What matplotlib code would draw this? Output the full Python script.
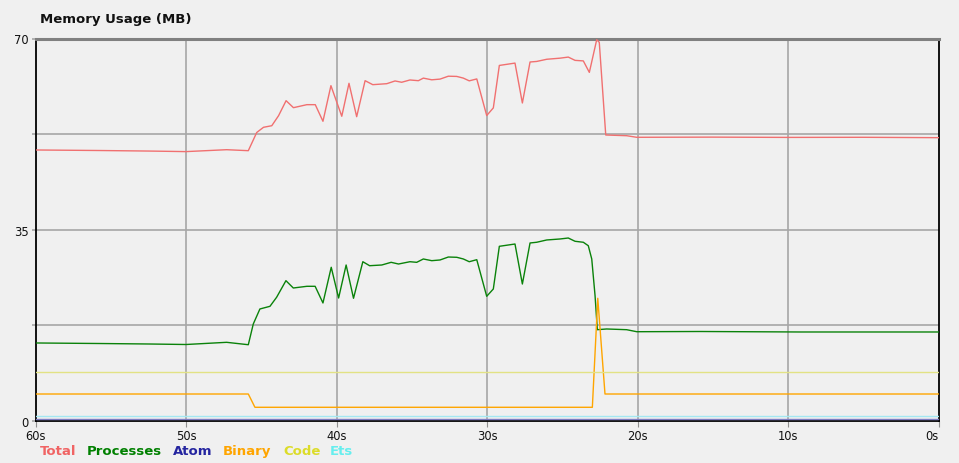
import matplotlib
matplotlib.use("Agg")
import matplotlib.pyplot as plt

# ---- data (seconds ago, MB) ----
total_t = [60, 55.7, 52.4, 50, 47.3, 45.86, 45.3, 44.85, 44.3, 43.85, 43.35, 42.86, 41.97, 41.41,
           40.9, 40.37, 39.65, 39.17, 38.66, 38.1, 37.59, 36.66, 36.11, 35.67, 35.12, 34.56,
           34.23, 33.67, 33.12, 32.57, 32.01, 31.57, 31.18, 30.68, 30.02, 29.58, 29.18, 28.14,
           27.65, 27.14, 26.7, 26.03, 25.15, 24.6, 24.15, 23.6, 23.2, 22.71, 22.54, 22.11,
           20.72, 20.05, 15.0, 10.0, 5.0, 0]
total_v = [49.6, 49.5, 49.4, 49.3, 49.65, 49.47, 52.8, 53.75, 54.04, 55.87, 58.62, 57.34, 57.89, 57.89,
           54.85, 61.37, 55.77, 61.8, 55.69, 62.28, 61.55, 61.73, 62.23, 61.99, 62.41, 62.28,
           62.75, 62.44, 62.57, 63.1, 63.06, 62.75, 62.25, 62.6, 55.9, 57.3, 65.07, 65.5,
           58.2, 65.7, 65.8, 66.2, 66.4, 66.6, 66.0, 65.9, 63.8, 69.78, 69.3, 52.34,
           52.21, 51.92, 51.95, 51.9, 51.92, 51.85]

proc_t = [60, 55.7, 52.4, 50, 47.3, 45.86, 45.53, 45.09, 44.42, 43.98, 43.36, 42.87, 41.97, 41.42,
          40.9, 40.35, 39.86, 39.36, 38.87, 38.25, 37.8, 36.99, 36.37, 35.88, 35.12, 34.67,
          34.23, 33.67, 33.12, 32.57, 32.01, 31.57, 31.18, 30.68, 30.02, 29.58, 29.18, 28.14,
          27.65, 27.14, 26.7, 26.03, 25.15, 24.6, 24.15, 23.6, 23.27, 23.04, 22.82, 22.67,
          22.05, 20.72, 20.05, 15.85, 9.2, 0]
proc_v = [14.28, 14.18, 14.09, 14.0, 14.4, 13.96, 17.75, 20.5, 20.99, 22.64, 25.68, 24.34, 24.65, 24.65,
          21.6, 28.13, 22.51, 28.55, 22.46, 29.15, 28.42, 28.55, 29.04, 28.73, 29.15, 29.04,
          29.65, 29.34, 29.47, 30.01, 29.96, 29.65, 29.15, 29.52, 22.82, 24.16, 31.97, 32.39,
          25.07, 32.58, 32.71, 33.13, 33.31, 33.49, 32.89, 32.71, 32.08, 29.65, 22.93, 16.71,
          16.84, 16.71, 16.34, 16.38, 16.29, 16.29]

binary_t = [60, 45.86, 45.42, 23.0, 22.64, 22.16, 0]
binary_v = [4.94, 4.94, 2.51, 2.51, 22.46, 4.94, 4.94]

atom_t = [60, 0]
atom_v = [0.42, 0.42]

code_t = [60, 0]
code_v = [8.93, 8.93]

ets_t = [60, 0]
ets_v = [0.86, 0.86]

x_ticks = [60, 50, 40, 30, 20, 10, 0]
x_labels = ["60s", "50s", "40s", "30s", "20s", "10s", "0s"]
y_grid = [17.5, 35, 52.5, 70]
y_labeled = [0, 35, 70]

series_names = ["Total", "Processes", "Atom", "Binary", "Code", "Ets"]
text_colors = ["#f06464", "#008000", "#2525a0", "#ffa500", "#dcdc28", "#66eeee"]
line_colors = ["#f07070", "#0a820a", "#7c7cc4", "#ffa500", "#e2e284", "#a4e8f2"]

# ---- figure ----
W, H = 959, 464
fig = plt.figure(figsize=(W / 100, H / 100), dpi=100, facecolor="#f0f0f0")
ax = fig.add_axes([35.5 / W, (H - 422) / H, (938.5 - 35.5) / W, (422 - 39.5) / H])
ax.set_facecolor("#f0f0f0")

grid_c = "#a6a6a6"
for xv in x_ticks[1:-1]:
    ax.axvline(xv, color=grid_c, lw=1.2, zorder=1)
for yv in y_grid[:-1]:
    ax.axhline(yv, color=grid_c, lw=1.2, zorder=1)

data = {
    "Total": (total_t, total_v),
    "Processes": (proc_t, proc_v),
    "Atom": (atom_t, atom_v),
    "Binary": (binary_t, binary_v),
    "Code": (code_t, code_v),
    "Ets": (ets_t, ets_v),
}
for name, lc in zip(series_names, line_colors):
    t, v = data[name]
    ax.plot(t, v, color=lc, lw=1.0, zorder=3, solid_joinstyle="round")

ax.set_xlim(60, 0)
ax.set_ylim(0, 70)

ax.set_xticks(x_ticks)
ax.set_xticklabels(x_labels, fontsize=8.3)
lbls = ax.get_xticklabels()
lbls[-1].set_horizontalalignment("right")
ax.tick_params(axis="x", length=4, color="#909090", pad=2, labelcolor="#111111")

ax.set_yticks(y_grid + [0])
ax.set_yticklabels(["", "35", "", "70", "0"], fontsize=8.3)
ax.tick_params(axis="y", length=3, color=grid_c, width=1.2, pad=2, labelcolor="#111111")

for s in ["left", "bottom", "right"]:
    ax.spines[s].set_color("black")
    ax.spines[s].set_linewidth(1.3)
ax.spines["top"].set_color("#808080")
ax.spines["top"].set_linewidth(2.2)

fig.text(40 / W, 1 - 20 / H, "Memory Usage (MB)", fontsize=9.5, fontweight="bold",
         va="center", ha="left", color="#111111")

legend_x = [40, 87, 173, 223, 283, 330]
for name, tc, lx in zip(series_names, text_colors, legend_x):
    fig.text(lx / W, 1 - 452 / H, name, fontsize=9.5, fontweight="bold",
             va="center", ha="left", color=tc)

fig.savefig("out.png", dpi=100, facecolor=fig.get_facecolor())
